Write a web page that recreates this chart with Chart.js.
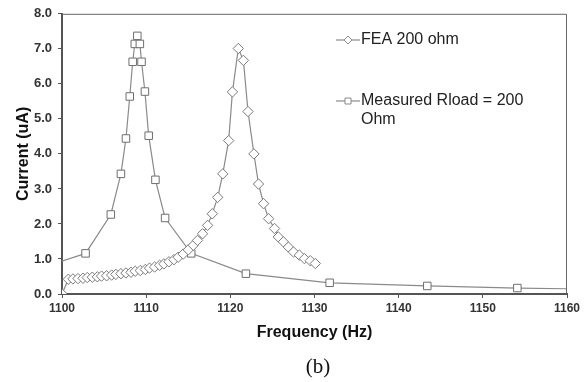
<!DOCTYPE html>
<html>
<head>
<meta charset="utf-8">
<script src="https://cdn.jsdelivr.net/npm/chart.js@4"></script>
<style>
  html, body { margin: 0; padding: 0; background: #fff; }
  #wrap { width: 587px; height: 382px; position: relative; }
</style>
</head>
<body>
<div id="wrap"><canvas id="chart"></canvas></div>
<script>
// measured resonance (Rload = 200 ohm)
const measFreq    = [1099, 1102.8, 1105.8, 1107.0, 1107.6, 1108.05, 1108.4, 1108.65, 1108.95, 1109.25, 1109.45, 1109.85, 1110.3, 1111.1, 1112.25, 1115.35, 1121.85, 1131.8, 1143.4, 1154.1, 1166];
const measCurrent = [0.86, 1.16, 2.27, 3.43, 4.44, 5.64, 6.63, 7.14, 7.37, 7.14, 6.63, 5.78, 4.52, 3.26, 2.17, 1.16, 0.58, 0.32, 0.23, 0.17, 0.13];

// FEA model, 200 ohm
const feaFreq = [1100, 1100.75, 1101.3, 1101.9, 1102.5, 1103.0, 1103.6, 1104.2, 1104.7, 1105.3, 1105.9, 1106.4,
  1107.0, 1107.6, 1108.2, 1108.7, 1109.3, 1109.9, 1110.4, 1111.0, 1111.6, 1112.1, 1112.7, 1113.3, 1113.8,
  1114.4, 1115.0, 1115.6, 1116.1, 1116.7, 1117.3, 1117.85, 1118.5, 1119.1, 1119.8, 1120.25, 1120.95,
  1121.55, 1122.1, 1122.8, 1123.35, 1123.95, 1124.55, 1125.25, 1125.7, 1126.3, 1126.9, 1127.5, 1128.2,
  1128.8, 1129.5, 1130.1];
const feaCurrent = [0.0, 0.42, 0.43, 0.44, 0.45, 0.47, 0.48, 0.49, 0.51, 0.52, 0.54, 0.56,
  0.58, 0.60, 0.62, 0.65, 0.67, 0.70, 0.74, 0.77, 0.82, 0.86, 0.92, 0.98, 1.05,
  1.14, 1.26, 1.39, 1.53, 1.72, 1.96, 2.29, 2.76, 3.43, 4.38, 5.77, 7.01,
  6.67, 5.21, 4.00, 3.14, 2.58, 2.15, 1.87, 1.63, 1.49, 1.34, 1.20, 1.11,
  1.01, 0.95, 0.87];

const xTicks = [1100, 1110, 1120, 1130, 1140, 1150, 1160];
const yTicks = [0, 1, 2, 3, 4, 5, 6, 7, 8];
const seriesNames = ['FEA 200 ohm', 'Measured Rload = 200|Ohm'];

const lineGray = '#8a8a8a';
const axisGray = '#555';

function pts(xs, ys) { return xs.map((x, i) => ({ x: x, y: ys[i] })); }

// draws legend inside the plot, plus the top/right frame and the "(b)" caption
const extras = {
  id: 'extras',
  afterDraw(chart) {
    const ctx = chart.ctx;
    const a = chart.chartArea;
    ctx.save();
    ctx.strokeStyle = '#666';
    ctx.lineWidth = 1;
    ctx.beginPath();
    ctx.moveTo(a.left, a.top + 0.5);
    ctx.lineTo(a.right - 0.5, a.top + 0.5);
    ctx.lineTo(a.right - 0.5, a.bottom);
    ctx.stroke();

    const rows = [{ y: 40, style: 'rectRot' }, { y: 101, style: 'rect' }];
    rows.forEach((r, i) => {
      const ds = chart.data.datasets[i];
      ctx.strokeStyle = ds.borderColor;
      ctx.lineWidth = 1.2;
      ctx.beginPath();
      ctx.moveTo(336, r.y);
      ctx.lineTo(360, r.y);
      ctx.stroke();
      ctx.fillStyle = '#fff';
      ctx.lineWidth = 1;
      ctx.beginPath();
      if (r.style === 'rect') {
        ctx.rect(345, r.y - 3, 6, 6);
      } else {
        ctx.moveTo(348, r.y - 4); ctx.lineTo(352, r.y); ctx.lineTo(348, r.y + 4); ctx.lineTo(344, r.y);
        ctx.closePath();
      }
      ctx.fill();
      ctx.stroke();
      ctx.fillStyle = '#222';
      ctx.font = '16px "Liberation Sans", Arial, sans-serif';
      ctx.textBaseline = 'middle';
      ctx.textAlign = 'left';
      seriesNames[i].split('|').forEach((t, k) => ctx.fillText(t, 361, r.y + k * 19));
    });

    ctx.fillStyle = '#111';
    ctx.font = '21px "Liberation Serif", "Times New Roman", serif';
    ctx.textAlign = 'center';
    ctx.fillText('(b)', 318, 367);
    ctx.restore();
  }
};

new Chart(document.getElementById('chart'), {
  type: 'line',
  data: {
    datasets: [
      {
        label: seriesNames[0], data: pts(feaFreq, feaCurrent),
        borderColor: lineGray, borderWidth: 1.2, tension: 0,
        pointStyle: 'rectRot', pointRadius: 5.2, pointBorderWidth: 1,
        pointBorderColor: '#7a7a7a', pointBackgroundColor: '#fff'
      },
      {
        label: seriesNames[1], data: pts(measFreq, measCurrent),
        borderColor: lineGray, borderWidth: 1.2, tension: 0,
        pointStyle: 'rect', pointRadius: 5.3, pointBorderWidth: 1,
        pointBorderColor: '#6e6e6e', pointBackgroundColor: '#fff'
      }
    ]
  },
  options: {
    responsive: true,
    maintainAspectRatio: false,
    animation: false,
    events: [],
    layout: { padding: { top: 12, right: 20, left: 0, bottom: 0 } },
    plugins: { legend: { display: false }, tooltip: { enabled: false } },
    scales: {
      x: {
        type: 'linear', min: 1100, max: 1160,
        afterBuildTicks: s => { s.ticks = xTicks.map(v => ({ value: v })); },
        afterFit: s => { s.height = 88; },
        grid: { drawOnChartArea: false, drawTicks: true, tickLength: 4, color: axisGray },
        border: { color: axisGray, width: 2 },
        ticks: { padding: 3, color: '#333', font: { family: '"Liberation Sans", Arial, sans-serif', size: 12, weight: 'bold' }, callback: v => String(v) },
        title: { display: true, text: 'Frequency (Hz)', color: '#111', padding: { top: 4, bottom: 40 },
          font: { family: '"Liberation Sans", Arial, sans-serif', size: 16, weight: 'bold' } }
      },
      y: {
        min: 0, max: 8,
        afterBuildTicks: s => { s.ticks = yTicks.map(v => ({ value: v })); },
        afterFit: s => { s.width = 62; },
        grid: { drawOnChartArea: false, drawTicks: true, tickLength: 4, color: axisGray },
        border: { color: axisGray, width: 2 },
        ticks: { padding: 6, color: '#333', font: { family: '"Liberation Sans", Arial, sans-serif', size: 13, weight: 'bold' }, callback: v => v.toFixed(1) },
        title: { display: true, text: 'Current (uA)', color: '#111', padding: { top: 14, bottom: 0 },
          font: { family: '"Liberation Sans", Arial, sans-serif', size: 16, weight: 'bold' } }
      }
    }
  },
  plugins: [extras]
});
</script>
</body>
</html>
